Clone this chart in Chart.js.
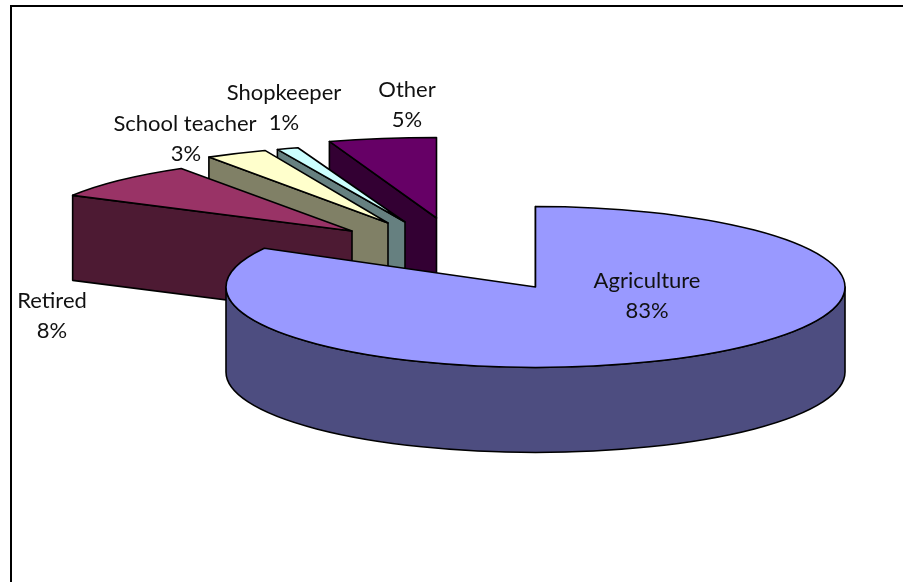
<!DOCTYPE html>
<html>
<head>
<meta charset="utf-8">
<title>Occupation pie</title>
<script src="https://cdn.jsdelivr.net/npm/chart.js@4/dist/chart.umd.min.js"></script>
<style>
    html, body { margin: 0; padding: 0; background: #fff; overflow: hidden; }
    #wrap { position: relative; width: 903px; height: 582px; }
    #frame {
        position: absolute; left: 10px; top: 5px; width: 893px; height: 577px;
        border-top: 2px solid #000; border-left: 2px solid #000; box-sizing: border-box;
    }
    canvas { position: absolute; left: 0; top: 0; }
</style>
</head>
<body>
<div id="wrap">
    <div id="frame"></div>
    <canvas id="pie-chart" width="903" height="582"></canvas>
</div>
<script>
// Data
const categories = ['Agriculture', 'Retired', 'School teacher', 'Shopkeeper', 'Other'];
const shares = [83, 8, 3, 1, 5];

// Colours
const topColors = ['#9999FF', '#993366', '#FFFFCC', '#CCFFFF', '#660066'];
const wallColors = ['#4D4D80', '#4D1A33', '#808066', '#668080', '#330033'];

// Draws the arcs Chart.js laid out as tilted slices with a wall below them
const pie3dPlugin = {
    id: 'pie3d',
    beforeDatasetDraw(chart, args, opts) {
        const ctx = chart.ctx;
        const arcs = chart.getDatasetMeta(args.index).data;
        const order = opts.drawOrder;

        ctx.save();
        ctx.lineWidth = 1.6;
        ctx.lineJoin = 'round';
        ctx.strokeStyle = '#000';

        order.forEach((i) => {
            const arc = arcs[i];
            const x = arc.x + opts.shiftX[i];
            const y = arc.y + opts.shiftY[i];
            const rx = arc.outerRadius * opts.scaleX[i];
            const ry = arc.outerRadius * opts.tilt * opts.scaleY[i];
            const a0 = arc.startAngle;
            const a1 = arc.endAngle;
            const d = opts.depth;

            // wall along the first edge of the slice
            ctx.beginPath();
            ctx.moveTo(x + rx * Math.cos(a0), y + ry * Math.sin(a0));
            ctx.lineTo(x, y);
            ctx.lineTo(x, y + d);
            ctx.lineTo(x + rx * Math.cos(a0), y + ry * Math.sin(a0) + d);
            ctx.closePath();
            ctx.fillStyle = wallColors[i];
            ctx.fill();
            ctx.stroke();

            // rim, only the part facing the viewer
            const from = Math.max(a0, 0);
            const to = Math.min(a1, Math.PI);
            if (to > from) {
                ctx.beginPath();
                ctx.ellipse(x, y, rx, ry, 0, from, to);
                ctx.ellipse(x, y + d, rx, ry, 0, to, from, true);
                ctx.closePath();
                ctx.fillStyle = wallColors[i];
                ctx.fill();
                ctx.stroke();
            }

            // top face
            ctx.beginPath();
            ctx.moveTo(x, y);
            ctx.ellipse(x, y, rx, ry, 0, a0, a1);
            ctx.closePath();
            ctx.fillStyle = topColors[i];
            ctx.fill();
            ctx.stroke();
        });

        ctx.restore();
        return false; // replaces the flat pie
    },
    afterDatasetsDraw(chart, args, opts) {
        const ctx = chart.ctx;
        ctx.save();
        ctx.fillStyle = '#111';
        ctx.font = opts.labelFont;
        ctx.textAlign = 'center';
        ctx.textBaseline = 'middle';
        categories.forEach((name, i) => {
            ctx.fillText(name, opts.labelX[i], opts.labelY[i]);
            ctx.fillText(shares[i] + '%', opts.valueX[i], opts.labelY[i] + opts.labelGap);
        });
        ctx.restore();
    },
};

new Chart(document.getElementById('pie-chart'), {
    type: 'pie',
    data: {
        labels: categories,
        datasets: [
            {
                data: shares,
                backgroundColor: topColors,
            },
        ],
    },
    options: {
        responsive: false,
        animation: false,
        radius: 309.5,
        layout: {
            padding: { left: 168, right: 0, top: 0, bottom: 8 },
        },
        plugins: {
            legend: { display: false },
            tooltip: { enabled: false },
            pie3d: {
                tilt: 0.26,
                depth: 85,
                drawOrder: [4, 3, 2, 1, 0],
                shiftX: [0, -183.5, -147.5, -130.5, -99],
                shiftY: [0, -56, -64, -65, -69],
                scaleX: [1, 1.03, 1.08, 1.12, 1.12],
                scaleY: [1, 0.92, 0.97, 0.97, 1],
                labelFont: '22px Lato',
                labelGap: 30,
                labelX: [647, 52, 185, 284, 407],
                labelY: [281, 301, 124, 93, 90],
                valueX: [647, 52, 186, 284, 407],
            },
        },
    },
    plugins: [pie3dPlugin],
});
</script>
</body>
</html>
